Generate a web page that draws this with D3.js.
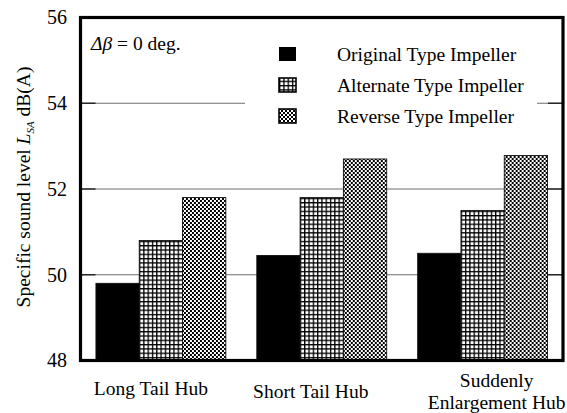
<!DOCTYPE html>
<html>
<head>
<meta charset="utf-8">
<script src="https://cdn.jsdelivr.net/npm/d3@7"></script>
<style>
  html, body { margin: 0; padding: 0; background: #fff; }
  svg { display: block; }
  text { font-family: "Liberation Serif", "Times New Roman", serif; fill: #000; }
</style>
</head>
<body>
<svg id="chart" width="567" height="413"></svg>
<script>
// Hub shapes on the x axis
const categories = ["Long Tail Hub", "Short Tail Hub", "Suddenly\nEnlargement Hub"];
// Impeller types (one bar per hub in each group)
const seriesNames = ["Original Type Impeller", "Alternate Type Impeller", "Reverse Type Impeller"];
// Specific sound level L_SA, dB(A)
const originalValues = [49.8, 50.45, 50.5];
const alternateValues = [50.8, 51.8, 51.5];
const reverseValues = [51.8, 52.7, 52.78];
const yTicks = [48, 50, 52, 54, 56];

const seriesValues = [originalValues, alternateValues, reverseValues];

const svg = d3.select("#chart");
const margin = { left: 80.5, right: 4, top: 17.5, bottom: 52.5 };
const W = 567, H = 413;
const x0 = margin.left, x1 = W - margin.right;
const y0 = H - margin.bottom, y1 = margin.top;

const x = d3.scaleBand().domain(d3.range(categories.length)).range([x0, x1])
  .paddingInner(0.1925).paddingOuter(0.096);
const xs = d3.scaleBand().domain(d3.range(seriesNames.length)).range([0, x.bandwidth()]);
const y = d3.scaleLinear().domain([48, 56]).range([y0, y1]);

// Fill patterns: square grid and fine checkerboard
const defs = svg.append("defs");
const grid = defs.append("pattern").attr("id", "grid").attr("patternUnits", "userSpaceOnUse")
  .attr("width", 4.3).attr("height", 4.3);
grid.append("rect").attr("width", 4.3).attr("height", 4.3).attr("fill", "#fff");
grid.append("rect").attr("width", 1.3).attr("height", 4.3).attr("fill", "#000");
grid.append("rect").attr("width", 4.3).attr("height", 1.3).attr("fill", "#000");

const check = defs.append("pattern").attr("id", "check").attr("patternUnits", "userSpaceOnUse")
  .attr("width", 4).attr("height", 4);
check.append("rect").attr("width", 4).attr("height", 4).attr("fill", "#fff");
check.append("rect").attr("x", 0).attr("y", 0).attr("width", 2).attr("height", 2).attr("fill", "#000");
check.append("rect").attr("x", 2).attr("y", 2).attr("width", 2).attr("height", 2).attr("fill", "#000");

const fills = ["#000", "url(#grid)", "url(#check)"];

// Grid lines with short inward ticks at both sides
const gridTicks = yTicks.filter(v => v > 48 && v < 56);
svg.append("g").selectAll("line").data(gridTicks).join("line")
  .attr("x1", x0).attr("x2", x1)
  .attr("y1", d => y(d)).attr("y2", d => y(d))
  .attr("stroke", "#6e6e6e").attr("stroke-width", 1.2);
const tickLen = 15;
svg.append("g").selectAll("line").data(gridTicks.flatMap(v => [[x0, x0 + tickLen, v], [x1 - tickLen, x1, v]]))
  .join("line")
  .attr("x1", d => d[0]).attr("x2", d => d[1])
  .attr("y1", d => y(d[2])).attr("y2", d => y(d[2]))
  .attr("stroke", "#222").attr("stroke-width", 1.4);

// Bars
const groups = svg.append("g").selectAll("g").data(categories).join("g")
  .attr("transform", (d, i) => `translate(${x(i)},0)`);
groups.selectAll("rect").data((d, i) => seriesValues.map((s, k) => ({ k, v: s[i] })))
  .join("rect")
  .attr("x", d => xs(d.k))
  .attr("width", xs.bandwidth())
  .attr("y", d => y(d.v))
  .attr("height", d => y(48) - y(d.v))
  .attr("fill", d => fills[d.k])
  .attr("stroke", "#111").attr("stroke-width", 0.9);

// Legend with white background
const lg = svg.append("g");
lg.append("rect").attr("x", 245).attr("y", 30).attr("width", 292).attr("height", 100).attr("fill", "#fff");
const rows = lg.selectAll("g").data(seriesNames).join("g")
  .attr("transform", (d, i) => `translate(279,${54 + i * 31})`);
rows.append("rect").attr("x", 0).attr("y", -7).attr("width", 17).attr("height", 14)
  .attr("fill", (d, i) => fills[i]).attr("stroke", "#000").attr("stroke-width", (d, i) => i ? 1.6 : 0);
rows.append("text").attr("x", 58).attr("y", 6.5).attr("font-size", 19.5).text(d => d);

// Annotation
const ann = svg.append("text").attr("x", 91).attr("y", 50).attr("font-size", 19.5);
ann.append("tspan").attr("font-style", "italic").text("Δβ");
ann.append("tspan").text(" = 0 deg.");

// Frame
svg.append("rect").attr("x", x0).attr("y", y1).attr("width", x1 - x0).attr("height", y0 - y1)
  .attr("fill", "none").attr("stroke", "#000").attr("stroke-width", 3.2);

// Y tick labels
svg.append("g").selectAll("text").data(yTicks).join("text")
  .attr("x", 67).attr("y", d => y(d)).attr("dy", "0.34em")
  .attr("text-anchor", "end").attr("font-size", 20).text(d => d);

// Category labels
const labelNudge = [[-10, 395], [-11, 398], [14, 387]];
svg.append("g").selectAll("text").data(categories).join("text")
  .attr("text-anchor", "middle").attr("font-size", 19.5)
  .attr("transform", (d, i) => `translate(${x(i) + x.bandwidth() / 2 + labelNudge[i][0]},${labelNudge[i][1]})`)
  .each(function (d) {
    d3.select(this).selectAll("tspan").data(d.split("\n")).join("tspan")
      .attr("x", 0).attr("dy", (t, j) => j ? 22 : 0).text(t => t);
  });

// Y axis title
const yt = svg.append("text").attr("text-anchor", "middle").attr("font-size", 19.5)
  .attr("transform", `translate(30,${(y0 + y1) / 2 - 2}) rotate(-90)`);
yt.append("tspan").text("Specific sound level ");
yt.append("tspan").attr("font-style", "italic").text("L");
yt.append("tspan").attr("font-style", "italic").attr("font-size", 11).attr("dy", 4).text("SA");
yt.append("tspan").attr("dy", -4).text("  dB(A)");
</script>
</body>
</html>
